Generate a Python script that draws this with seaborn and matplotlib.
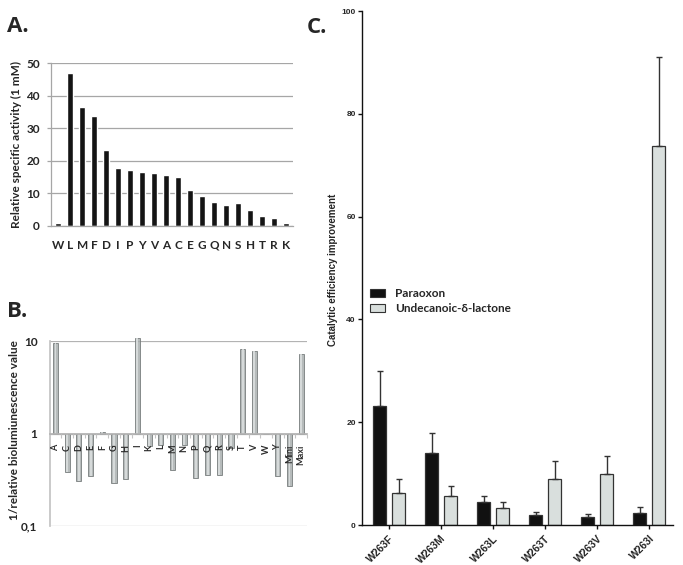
import numpy as np
import pandas as pd
import matplotlib
matplotlib.use("Agg")
import matplotlib.pyplot as plt
import seaborn as sns
from matplotlib.patches import Patch

# ---------------- data ----------------
cats_A = ["W", "L", "M", "F", "D", "I", "P", "Y", "V", "A",
          "C", "E", "G", "Q", "N", "S", "H", "T", "R", "K"]
vals_A = [1.0, 47.0, 36.5, 33.7, 23.2, 17.9, 17.2, 16.5, 16.2, 15.6,
          15.0, 10.9, 9.1, 7.4, 6.5, 7.0, 4.9, 3.1, 2.5, 1.0]
ticks_A = [0, 10, 20, 30, 40, 50]

cats_B = ["A", "C", "D", "E", "F", "G", "H", "I", "K", "L", "M",
          "N", "P", "Q", "R", "S", "T", "V", "W", "Y", "Mini", "Maxi"]
vals_B = [9.6, 0.385, 0.31, 0.345, 1.03, 0.29, 0.32, 10.7, 0.74, 0.75, 0.40,
          0.76, 0.33, 0.36, 0.36, 0.69, 8.1, 7.8, 1.0, 0.35, 0.27, 7.2]
ticks_B = [0.1, 1, 10]
ticklabels_B = ["0,1", "1", "10"]

mut_C = ["W263F", "W263M", "W263L", "W263T", "W263V", "W263I"]
series_C = ["Paraoxon", "Undecanoic-\u03b4-lactone"]
parao_C = [23.2, 14.1, 4.55, 1.96, 1.6, 2.24]
parao_err_C = [6.8, 3.8, 1.05, 0.5, 0.5, 1.26]
lact_C = [6.16, 5.6, 3.22, 9.03, 10.0, 73.8]
lact_err_C = [2.8, 2.0, 1.26, 3.5, 3.5, 17.2]
ticks_C = [0, 20, 40, 60, 80, 100]

# ---------------- style ----------------
sns.set_theme(style="white")
XL = ["Lato", "DejaVu Sans"]
GP = ["Liberation Sans", "DejaVu Sans"]
LET = ["Open Sans", "DejaVu Sans"]
plt.rcParams["font.family"] = XL
plt.rcParams["font.weight"] = "bold"

W, H = 683, 565
fig = plt.figure(figsize=(W / 100, H / 100), dpi=100)


def box(l, t, r, b):
    return [l / W, 1 - b / H, (r - l) / W, (b - t) / H]


# ---------------- panel A ----------------
axA = fig.add_axes(box(51, 63, 293, 226))
sns.barplot(x=cats_A, y=vals_A, color="#141414", width=0.55, saturation=1, ax=axA)
axA.set_xlim(-0.6, 19.58)
axA.set_ylim(0, 50)
axA.set_yticks(ticks_A)
axA.yaxis.grid(True, color="#a6a6a6", lw=0.9)
axA.set_axisbelow(True)
for s in ["top", "right"]:
    axA.spines[s].set_visible(False)
for s in ["bottom", "left"]:
    axA.spines[s].set_color("#a6a6a6")
    axA.spines[s].set_linewidth(0.9)
axA.tick_params(axis="y", left=True, length=3, color="#a6a6a6", width=0.9,
                labelsize=8.5, pad=5)
axA.tick_params(axis="x", bottom=False, labelsize=8.5, pad=4)
for t in axA.get_xticklabels() + axA.get_yticklabels():
    t.set_fontweight("bold")
axA.set_xlabel("")
axA.set_ylabel("Relative specific activity (1 mM)", fontsize=8.5, fontweight="bold")
axA.yaxis.set_label_coords(-0.12, 0.5)

# ---------------- panel B ----------------
axB = fig.add_axes(box(50, 341, 307, 526))
logB = np.log10(vals_B)
sns.barplot(x=cats_B, y=logB, color="#a4aaaa", width=0.44,
            edgecolor="#707575", linewidth=0.7, saturation=1, alpha=0.8, ax=axB)
sns.barplot(x=cats_B, y=logB, color="#dfe3e3", width=0.16,
            linewidth=0, saturation=1, alpha=0.8, ax=axB)
for p in axB.patches:
    p.set_clip_on(False)
axB.set_xlim(-0.47, 21.47)
axB.set_ylim(-1, 1)
axB.set_yticks(np.log10(ticks_B))
axB.set_yticklabels(ticklabels_B)
axB.yaxis.grid(True, color="#b3b3b3", lw=0.9)
axB.set_axisbelow(True)
axB.xaxis.set_zorder(3)
for s in ["top", "right"]:
    axB.spines[s].set_visible(False)
axB.spines["left"].set_color("#c4c4c4")
axB.spines["bottom"].set_position(("data", 0))
axB.spines["bottom"].set_color("#b3b3b3")
axB.set_xticks(np.arange(len(cats_B)) + 0.5, minor=True)
axB.tick_params(axis="x", which="minor", bottom=True, length=3, color="#c4c4c4", width=0.8)
axB.tick_params(axis="x", which="major", bottom=False, labelrotation=90,
                labelsize=6.5, pad=2, labelcolor="#2a2a2a")
axB.tick_params(axis="y", left=False, length=0, labelsize=8.5, pad=9)
for t in axB.get_xticklabels() + axB.get_yticklabels():
    t.set_fontweight("bold")
axB.set_xlabel("")
axB.set_ylabel("1/relative biolumiunescence value", fontsize=8.5, fontweight="bold")
axB.yaxis.set_label_coords(-0.115, 0.52)

# ---------------- panel C ----------------
axC = fig.add_axes(box(362, 11, 673, 525))
dfC = pd.DataFrame({
    "mutant": mut_C * 2,
    "substrate": [series_C[0]] * len(mut_C) + [series_C[1]] * len(mut_C),
    "value": parao_C + lact_C,
})
pal = {series_C[0]: "#111111", series_C[1]: "#d9dfdd"}
sns.barplot(data=dfC, x="mutant", y="value", hue="substrate", order=mut_C,
            hue_order=series_C, palette=pal, width=0.73, gap=0.29,
            edgecolor="#333333", linewidth=0.9, errorbar=None, legend=False,
            saturation=1, ax=axC)
for cont, errs in zip(axC.containers, [parao_err_C, lact_err_C]):
    xs = [r.get_x() + r.get_width() / 2 for r in cont]
    ys = [r.get_height() for r in cont]
    axC.errorbar(xs, ys, yerr=[np.zeros(len(errs)), errs], fmt="none",
                 ecolor="#333333", elinewidth=1, capsize=2.5, capthick=1, zorder=1)
axC.set_xlim(-0.52, 5.46)
axC.set_ylim(0, 100)
axC.set_yticks(ticks_C)
for s in ["top", "right"]:
    axC.spines[s].set_visible(False)
for s in ["left", "bottom"]:
    axC.spines[s].set_color("#111111")
    axC.spines[s].set_linewidth(1.0)
axC.tick_params(axis="both", direction="out", length=3, width=1, color="#111111",
                left=True, bottom=True)
axC.tick_params(axis="y", labelsize=6, pad=1.5)
axC.tick_params(axis="x", labelsize=7.5, pad=3)
for t in axC.get_yticklabels():
    t.set_family(GP)
    t.set_fontweight("bold")
for t in axC.get_xticklabels():
    t.set_family(GP)
    t.set_fontweight("bold")
    t.set_rotation(45)
    t.set_ha("right")
    t.set_va("top")
    t.set_rotation_mode("anchor")
axC.set_xlabel("")
axC.set_ylabel("Catalytic efficiency improvement", fontsize=7, fontweight="bold",
               family=GP)
axC.yaxis.set_label_coords(-0.077, 0.496)

handles = [Patch(facecolor=pal[s], edgecolor="#333333", linewidth=0.8) for s in series_C]
axC.legend(handles, series_C, loc="upper left", bbox_to_anchor=(370 / W, 1 - 288 / H),
           bbox_transform=fig.transFigure, frameon=False,
           prop={"family": XL, "weight": "bold", "size": 8.5},
           handlelength=1.3, handleheight=0.6, handletextpad=0.8,
           labelspacing=0.35, borderpad=0, borderaxespad=0)

# ---------------- panel letters ----------------
fig.text(7 / W, 1 - 32 / H, "A.", fontsize=16, fontweight="bold", family=LET, va="baseline")
fig.text(7 / W, 1 - 317 / H, "B.", fontsize=16, fontweight="bold", family=LET, va="baseline")
fig.text(307 / W, 1 - 33 / H, "C.", fontsize=16, fontweight="bold", family=LET, va="baseline")

fig.savefig("out.png", dpi=100)
